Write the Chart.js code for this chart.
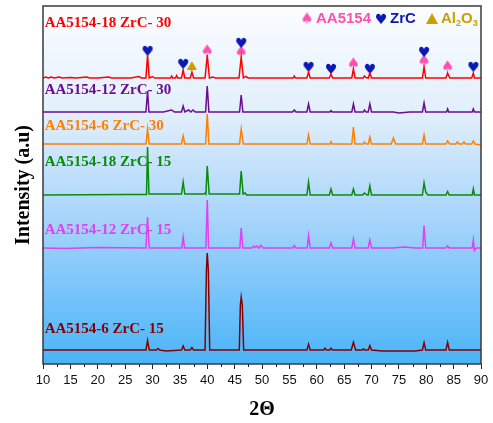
<!DOCTYPE html>
<html>
<head>
<meta charset="utf-8">
<script src="https://cdn.jsdelivr.net/npm/chart.js@4.4.1/dist/chart.umd.min.js"></script>
<style>
  html, body { margin: 0; padding: 0; background: #fff; }
</style>
</head>
<body>
<canvas id="xrdChart" width="493" height="423"></canvas>
<script>
// ---- XRD patterns, 2θ vs intensity above each baseline ----
const names = ['AA5154-18 ZrC- 30', 'AA5154-12 ZrC- 30', 'AA5154-6 ZrC- 30',
               'AA5154-18 ZrC- 15', 'AA5154-12 ZrC- 15', 'AA5154-6 ZrC- 15'];
const offsets = [286, 252, 220, 169, 116, 14];

const s18_30 = [[10,0],[10.5,1],[11,0],[11.5,1],[12,0],[13,1],[13.5,0],[15,0.5],[16,0],[18,1],[18.5,0],[20,0],[22,1],[22.5,0],[26,0],[27.5,1.5],[28,0],[28.8,0],[29.1,23],[29.4,0],[30,1.5],[30.4,0],[33.3,0],[33.5,2],[33.7,0],[34.2,0],[34.4,2.5],[34.6,0],[35.3,0],[35.6,8],[35.9,0],[36.9,0],[37.2,6],[37.5,0],[39.6,0],[40.0,23],[40.4,0],[41,1],[41.5,0],[45.8,0],[46.2,21],[46.6,0],[47,1.5],[47.5,0],[55.7,0],[55.9,2],[56.1,0],[58.2,0],[58.5,6],[58.8,0],[62.3,0],[62.6,4],[62.9,0],[66.4,0],[66.7,9],[67,0],[68.5,0],[68.7,2],[69,0.5],[69.4,0],[69.7,5],[70,0],[79.3,0],[79.6,11],[79.9,0],[83.6,0],[83.9,5],[84.3,0],[88.3,0],[88.6,5],[88.8,0],[90,0]];
const s12_30 = [[10,0],[28.8,0],[29.1,21],[29.35,0],[32,0],[33.5,2],[34,0],[35.3,0],[35.6,6],[35.9,0],[36.6,2],[37,0],[37.4,2],[37.8,0],[39.7,0],[40,26],[40.3,0],[45.9,0],[46.2,17],[46.5,0],[55.6,0],[55.9,2],[56.2,0],[58.2,0],[58.5,8],[58.8,0],[62.4,0],[62.6,1.5],[62.8,0],[66.4,0],[66.7,8],[67,0],[68.5,0],[68.7,2],[69,0],[69.4,0],[69.7,8],[70,0],[74,0],[75,-1],[77,0],[79.3,0],[79.6,9],[79.9,0],[83.7,0],[83.9,3],[84.1,0],[88.4,0],[88.6,3],[88.8,0],[90,0]];
const s6_30 = [[10,0],[28.8,0],[29.1,15],[29.4,0],[35.3,0],[35.6,8],[35.9,0],[39.7,0],[40,30],[40.3,0],[45.9,0],[46.2,15],[46.6,0],[58.2,0],[58.5,9],[58.8,0],[62.4,0],[62.6,2.5],[62.8,0],[66.4,0],[66.7,17],[67,0],[68.5,0],[68.7,2],[69,0],[69.4,0],[69.7,7],[70,0],[73.6,0],[74,6],[74.4,0],[79.3,0],[79.6,9],[79.9,0],[83.6,0],[83.9,3],[84.3,0],[85.4,0],[85.7,2],[86,0],[86.6,0],[86.9,2],[87.2,0],[88.3,0],[88.6,3],[88.9,0],[90,-1]];
const s18_15 = [[10,0],[25,0.5],[28.9,0.5],[29.1,48],[29.35,1],[35.3,1],[35.6,13],[35.9,1],[39.4,1],[39.6,2],[39.75,1],[40,29],[40.35,1],[45.9,1],[46.2,24],[46.55,1],[46.9,2],[47.2,0],[58.2,0],[58.5,13],[58.8,0],[62.3,0],[62.6,6],[62.9,0],[66.4,0],[66.7,6],[67,0],[68.4,0],[68.7,2],[69.2,0],[69.4,0],[69.7,9],[70,0],[79.3,0],[79.6,12],[79.9,3],[80.3,0],[83.6,0],[83.9,3.5],[84.2,0],[88.4,0],[88.6,6],[88.8,0],[90,0]];
const s12_15 = [[10,0],[14,-0.5],[20,0.5],[28.8,0],[29.1,31],[29.4,0],[35.35,0],[35.6,11],[35.85,0],[39.75,0],[40,48],[40.25,0],[45.95,0],[46.2,20],[46.5,0],[48.2,0],[48.5,2],[48.8,0.5],[49.1,2],[49.4,0],[49.8,2.5],[50.2,0],[55.6,0],[55.9,2.5],[56.2,0],[58.25,0],[58.5,12.5],[58.8,0],[62.3,0],[62.6,5],[62.9,0],[66.4,0],[66.7,9],[67,0],[69.4,0],[69.7,8],[70,0],[74,0],[76,1],[78,0],[79.35,0],[79.6,22.5],[79.9,0],[83.6,0],[83.9,2],[84.2,0],[88.4,0],[88.6,8],[88.8,-2.5],[89.1,0],[90,0]];
const s6_15 = [[10,0],[26,0],[28.8,0],[29.1,9.5],[29.4,0],[30.7,0],[31,1.5],[31.3,0],[32.5,-1],[34,-0.5],[35.3,0],[35.6,4],[35.9,0],[36.9,0],[37.2,2.5],[37.5,0],[39.6,0],[39.85,80],[40,97],[40.2,80],[40.45,0],[45.85,0],[46.05,45],[46.2,53],[46.4,45],[46.65,0],[58.2,0],[58.5,5.7],[58.8,0],[61.3,0],[61.5,1.7],[61.8,0],[62.4,0],[62.6,1.7],[62.9,0],[66.3,0],[66.7,7.7],[67.1,0],[68.3,0],[68.5,1],[68.8,0],[69.4,0],[69.7,4.3],[70,0],[72,-1],[78,-1],[79.3,0],[79.6,7.3],[79.9,0],[83.6,0],[83.9,7.7],[84.2,0],[90,0]];
const patterns = [s18_30, s12_30, s6_30, s18_15, s12_15, s6_15];

// phase markers over the top pattern (2θ, level)
const zrcMarks   = [[29.1,313],[35.6,300],[46.2,321],[58.5,297],[62.6,295],[69.7,295],[79.6,312],[88.6,297]];
const alloyMarks = [[40.0,313],[46.2,312],[66.7,300],[79.6,303],[83.9,297]];
const al2o3Marks = [[37.2,297]];

const xTicks = [10, 15, 20, 25, 30, 35, 40, 45, 50, 55, 60, 65, 70, 75, 80, 85, 90];

// ---- Colours ----
const lineColors = ['#ff0000', '#6a0d91', '#ff8000', '#0b8a0b', '#e040f0', '#850000'];
const PINK = '#ff4fb0';
const BLUE = '#0a18b5';
const GOLD = '#c9a000';
const labelLevels = [341, 274, 238, 202, 134, 35];

function glyph(ch, color, px) {
    const c = document.createElement('canvas');
    c.width = px + 4; c.height = px + 4;
    const g = c.getContext('2d');
    g.fillStyle = color;
    g.font = `bold ${px}px "DejaVu Sans"`;
    g.textAlign = 'center';
    g.textBaseline = 'middle';
    g.fillText(ch, c.width / 2, c.height / 2 + 1);
    return c;
}
const heartImg = glyph('\u2665', BLUE, 14);
const spadeImg = glyph('\u2660', PINK, 15);

const toXY = arr => arr.map(p => ({ x: p[0], y: p[1] }));

const lineSets = patterns.map((pts, i) => ({
    label: names[i],
    data: pts.map(p => ({ x: p[0], y: p[1] + offsets[i] })),
    showLine: true,
    borderColor: lineColors[i],
    borderWidth: 1.5,
    pointRadius: 0,
    tension: 0,
}));

const markSets = [
    { label: 'ZrC', data: toXY(zrcMarks), pointStyle: heartImg, showLine: false },
    { label: 'AA5154', data: toXY(alloyMarks), pointStyle: spadeImg, showLine: false },
    { label: 'Al2O3', data: toXY(al2o3Marks), pointStyle: 'triangle', pointRadius: 5,
      backgroundColor: GOLD, borderColor: GOLD, showLine: false },
];

// ---- plugins ----
const backdrop = {
    id: 'backdrop',
    beforeDraw(chart) {
        const { ctx, chartArea: a } = chart;
        const gr = ctx.createLinearGradient(0, a.top, 0, a.bottom);
        gr.addColorStop(0, '#fbfdff');
        gr.addColorStop(0.3, '#e2effc');
        gr.addColorStop(0.6, '#a6d4fb');
        gr.addColorStop(1, '#4ab4f8');
        ctx.save();
        ctx.fillStyle = gr;
        ctx.fillRect(a.left, a.top, a.right - a.left, a.bottom - a.top);
        ctx.restore();
    }
};

const decorations = {
    id: 'decorations',
    afterDraw(chart) {
        const { ctx, chartArea: a, scales: { x, y } } = chart;
        ctx.save();
        // frame
        ctx.strokeStyle = '#3a3a3a';
        ctx.lineWidth = 1.5;
        ctx.strokeRect(a.left, a.top, a.right - a.left, a.bottom - a.top);
        // minor ticks
        ctx.lineWidth = 1;
        ctx.strokeStyle = '#222';
        for (let v = 12.5; v < 90; v += 5) {
            const px = Math.round(x.getPixelForValue(v)) + 0.5;
            ctx.beginPath();
            ctx.moveTo(px, a.bottom);
            ctx.lineTo(px, a.bottom + 3);
            ctx.stroke();
        }
        // series labels
        ctx.font = 'bold 15px "Liberation Serif"';
        ctx.textBaseline = 'middle';
        ctx.textAlign = 'left';
        names.forEach((n, i) => {
            ctx.fillStyle = lineColors[i];
            ctx.fillText(n, x.getPixelForValue(10.3), y.getPixelForValue(labelLevels[i]));
        });
        // legend
        const ly = 19;
        ctx.drawImage(spadeImg, 307 - spadeImg.width / 2, ly - spadeImg.height / 2);
        ctx.font = 'bold 15px "Liberation Sans"';
        ctx.fillStyle = PINK;
        ctx.fillText('AA5154', 316, ly);
        ctx.drawImage(heartImg, 381 - heartImg.width / 2, ly - heartImg.height / 2);
        ctx.fillStyle = BLUE;
        ctx.fillText('ZrC', 390, ly);
        ctx.fillStyle = GOLD;
        ctx.beginPath();
        ctx.moveTo(432, ly - 6);
        ctx.lineTo(438, ly + 5);
        ctx.lineTo(426, ly + 5);
        ctx.closePath();
        ctx.fill();
        let cx = 441;
        ctx.fillText('Al', cx, ly); cx += ctx.measureText('Al').width;
        ctx.font = 'bold 9px "Liberation Sans"';
        ctx.fillText('2', cx, ly + 5); cx += ctx.measureText('2').width;
        ctx.font = 'bold 15px "Liberation Sans"';
        ctx.fillText('O', cx, ly); cx += ctx.measureText('O').width;
        ctx.font = 'bold 9px "Liberation Sans"';
        ctx.fillText('3', cx, ly + 5);
        ctx.restore();
    }
};

new Chart(document.getElementById('xrdChart'), {
    type: 'scatter',
    data: { datasets: [...lineSets, ...markSets] },
    options: {
        responsive: false,
        animation: false,
        layout: { padding: { top: 6, right: 12, left: 0, bottom: 0 } },
        plugins: { legend: { display: false }, tooltip: { enabled: false } },
        scales: {
            x: {
                type: 'linear',
                min: 10,
                max: 90,
                afterBuildTicks: s => { s.ticks = xTicks.map(v => ({ value: v })); },
                afterFit: s => { s.height = 59; },
                border: { display: false },
                grid: { drawOnChartArea: false, tickLength: 5, color: '#222' },
                ticks: {
                    autoSkip: false,
                    maxRotation: 0,
                    padding: 4,
                    color: '#111',
                    font: { family: 'Liberation Sans', size: 13 }
                },
                title: {
                    display: true,
                    text: '2\u0398',
                    color: '#000',
                    padding: { top: 0, bottom: 1 },
                    font: { family: 'Liberation Serif', size: 20, weight: 'bold' }
                }
            },
            y: {
                min: 0,
                max: 358,
                afterFit: s => { s.width = 43; },
                border: { display: false },
                grid: { display: false },
                ticks: { display: false },
                title: {
                    display: true,
                    text: 'Intensity (a.u)',
                    color: '#000',
                    padding: { top: 12, bottom: 0 },
                    font: { family: 'Liberation Serif', size: 20, weight: 'bold' }
                }
            }
        }
    },
    plugins: [backdrop, decorations]
});
</script>
</body>
</html>
